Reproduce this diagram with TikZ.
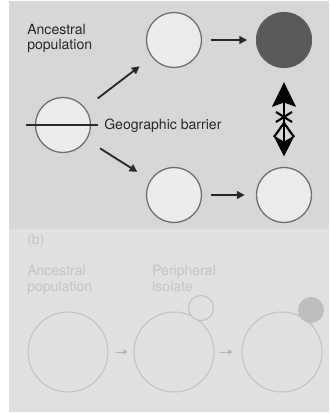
\documentclass[tikz,border=0pt]{standalone}
\usepackage{fontspec}
\setmainfont{TeX Gyre Heros}
\usepackage{tikz}
\usetikzlibrary{arrows.meta}
\usetikzlibrary{positioning}

\definecolor{bgtop}{RGB}{215,215,215}
\definecolor{bgbot}{RGB}{224,224,224}
\definecolor{popfill}{RGB}{236,236,236}
\definecolor{poprim}{RGB}{110,110,110}
\definecolor{popdark}{RGB}{90,90,90}
\definecolor{inkdark}{RGB}{40,40,40}
\definecolor{fadedrim}{RGB}{192,192,192}
\definecolor{fadedtext}{RGB}{196,196,196}
\definecolor{fadedarrow}{RGB}{178,178,178}
\definecolor{isodark}{RGB}{190,190,190}

\tikzset{
  pop/.style={circle,minimum size=1.375cm,inner sep=0pt,draw=poprim,line width=0.9pt,fill=popfill},
  big/.style={circle,minimum size=2cm,inner sep=0pt,draw=fadedrim,line width=0.7pt,fill=bgbot},
  small/.style={circle,minimum size=0.625cm,inner sep=0pt,draw=fadedrim,line width=0.7pt,fill=bgbot},
  lbl/.style={inner sep=0pt,align=left,text=inkdark,font=\fontsize{10pt}{10.6pt}\selectfont},
  lblb/.style={inner sep=0pt,align=left,text=fadedtext,font=\fontsize{10pt}{11.3pt}\selectfont},
  arr/.style={-{Triangle[length=5.5pt,width=5.5pt]},line width=1.3pt,draw=inkdark},
  arrb/.style={-{Triangle[length=3pt,width=3.5pt]},line width=0.7pt,draw=fadedarrow},
  geoline/.style={line width=1pt,draw=inkdark},
  barrier/.style={{Stealth[length=17.5pt,width=17pt,inset=3pt]}-{Stealth[length=15pt,width=15pt,inset=4.5pt]},line width=1.6pt,draw=black},
  cross/.style={line width=1.5pt,draw=black}
}

\begin{document}
\begin{tikzpicture}[x=0.025cm,y=-0.025cm]
\useasboundingbox (0,0) rectangle (329,414);
\fill[white] (0,0) rectangle (329,414);
\fill[bgtop] (9,1) rectangle (329,229);
\fill[bgbot] (9,229) rectangle (329,412);

\node at (27,24)[lbl,anchor=north west](anc){Ancestral\\population};
\node at (63,125)[pop](a0){};
\node at (174,40)[pop](a1){};
\node at (284,40)[pop,fill=popdark,draw=popdark](a2){};
\node at (174,195)[pop](b1){};
\node at (284,195)[pop](b2){};
\draw[geoline] ([xshift=-0.225cm]a0.west) -- ([xshift=0.175cm]a0.east);
\node at (104,126)[lbl,anchor=west](geo){Geographic barrier};
\draw[arr,shorten <=0.39cm,shorten >=0.38cm] (a0) -- (a1);
\draw[arr,shorten <=0.39cm,shorten >=0.38cm] (a0) -- (b1);
\draw[arr,shorten <=0.21cm,shorten >=0.22cm] (a1) -- (a2);
\draw[arr,shorten <=0.21cm,shorten >=0.28cm] (b1) -- (b2);
\draw[barrier,shorten <=0.35cm,shorten >=0.26cm] (a2) -- (b2);
\coordinate (xm) at (284,117);
\draw[cross] ([shift={(-8,-5)}]xm) -- ([shift={(8,5)}]xm);
\draw[cross] ([shift={(8,-5)}]xm) -- ([shift={(-8,5)}]xm);
\draw[cross] ([shift={(-10,20)}]xm) -- ([shift={(0,6)}]xm) -- ([shift={(10,20)}]xm);

\node at (27,241)[lblb,anchor=west](bb){(b)};
\node at (27,265)[lblb,anchor=north west](anc2){Ancestral\\population};
\node at (152,265)[lblb,anchor=north west](per){Peripheral\\isolate};
\node at (68,352)[big](c0){};
\node at (174,352)[big](c1){};
\node at (282,352)[big](c2){};
\node at (201,308)[small](s1){};
\node at (311,310)[small,fill=isodark,draw=isodark](s2){};
\draw[arrb,shorten <=0.175cm,shorten >=0.15cm] (c0) -- (c1);
\draw[arrb,shorten <=0.125cm,shorten >=0.225cm] (c1) -- (c2);
\end{tikzpicture}
\end{document}
